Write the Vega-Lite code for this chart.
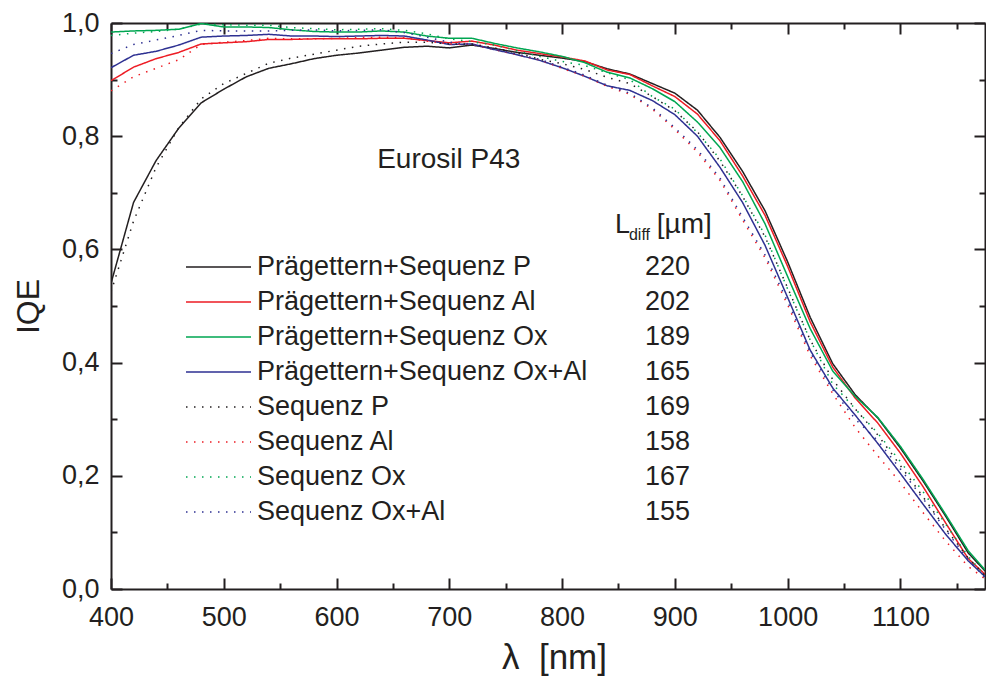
{
  "$schema": "https://vega.github.io/schema/vega-lite/v6.json",
  "width": 874,
  "height": 566,
  "autosize": {"type": "none"},
  "padding": {"left": 111, "top": 23, "right": 1, "bottom": 95},
  "background": "white",
  "config": {
    "view": {"stroke": null},
    "font": "Liberation Sans",
    "axis": {
      "domainColor": "#231f20", "tickColor": "#231f20", "labelColor": "#231f20", "titleColor": "#231f20",
      "grid": false, "domainWidth": 2, "tickWidth": 2, "labelFont": "Liberation Sans", "titleFont": "Liberation Sans",
      "labelFontSize": 27, "titleFontWeight": "normal", "labelFlush": false, "labelOverlap": false, "labelBound": false
    },
    "legend": {"labelFont": "Liberation Sans", "labelColor": "#231f20"}
  },
  "datasets": {
    "curves": [
{"s":"Prägettern+Sequenz P","w":400,"q":0.540},{"s":"Prägettern+Sequenz P","w":420,"q":0.683},{"s":"Prägettern+Sequenz P","w":440,"q":0.757},{"s":"Prägettern+Sequenz P","w":460,"q":0.814},{"s":"Prägettern+Sequenz P","w":480,"q":0.859},{"s":"Prägettern+Sequenz P","w":500,"q":0.883},{"s":"Prägettern+Sequenz P","w":520,"q":0.905},{"s":"Prägettern+Sequenz P","w":540,"q":0.920},{"s":"Prägettern+Sequenz P","w":560,"q":0.928},{"s":"Prägettern+Sequenz P","w":580,"q":0.937},{"s":"Prägettern+Sequenz P","w":600,"q":0.943},{"s":"Prägettern+Sequenz P","w":620,"q":0.947},{"s":"Prägettern+Sequenz P","w":640,"q":0.952},{"s":"Prägettern+Sequenz P","w":660,"q":0.957},{"s":"Prägettern+Sequenz P","w":680,"q":0.959},{"s":"Prägettern+Sequenz P","w":700,"q":0.956},{"s":"Prägettern+Sequenz P","w":720,"q":0.961},{"s":"Prägettern+Sequenz P","w":740,"q":0.955},{"s":"Prägettern+Sequenz P","w":760,"q":0.948},{"s":"Prägettern+Sequenz P","w":780,"q":0.943},{"s":"Prägettern+Sequenz P","w":800,"q":0.938},{"s":"Prägettern+Sequenz P","w":820,"q":0.932},{"s":"Prägettern+Sequenz P","w":840,"q":0.919},{"s":"Prägettern+Sequenz P","w":860,"q":0.910},{"s":"Prägettern+Sequenz P","w":880,"q":0.893},{"s":"Prägettern+Sequenz P","w":900,"q":0.876},{"s":"Prägettern+Sequenz P","w":920,"q":0.846},{"s":"Prägettern+Sequenz P","w":940,"q":0.798},{"s":"Prägettern+Sequenz P","w":960,"q":0.738},{"s":"Prägettern+Sequenz P","w":980,"q":0.668},{"s":"Prägettern+Sequenz P","w":1000,"q":0.578},{"s":"Prägettern+Sequenz P","w":1020,"q":0.480},{"s":"Prägettern+Sequenz P","w":1040,"q":0.398},{"s":"Prägettern+Sequenz P","w":1060,"q":0.343},{"s":"Prägettern+Sequenz P","w":1080,"q":0.302},{"s":"Prägettern+Sequenz P","w":1100,"q":0.249},{"s":"Prägettern+Sequenz P","w":1120,"q":0.191},{"s":"Prägettern+Sequenz P","w":1140,"q":0.129},{"s":"Prägettern+Sequenz P","w":1160,"q":0.064},{"s":"Prägettern+Sequenz P","w":1175,"q":0.032},
{"s":"Prägettern+Sequenz Al","w":400,"q":0.898},{"s":"Prägettern+Sequenz Al","w":420,"q":0.922},{"s":"Prägettern+Sequenz Al","w":440,"q":0.937},{"s":"Prägettern+Sequenz Al","w":460,"q":0.948},{"s":"Prägettern+Sequenz Al","w":480,"q":0.963},{"s":"Prägettern+Sequenz Al","w":500,"q":0.965},{"s":"Prägettern+Sequenz Al","w":520,"q":0.967},{"s":"Prägettern+Sequenz Al","w":540,"q":0.971},{"s":"Prägettern+Sequenz Al","w":560,"q":0.971},{"s":"Prägettern+Sequenz Al","w":580,"q":0.972},{"s":"Prägettern+Sequenz Al","w":600,"q":0.972},{"s":"Prägettern+Sequenz Al","w":620,"q":0.972},{"s":"Prägettern+Sequenz Al","w":640,"q":0.973},{"s":"Prägettern+Sequenz Al","w":660,"q":0.973},{"s":"Prägettern+Sequenz Al","w":680,"q":0.969},{"s":"Prägettern+Sequenz Al","w":700,"q":0.965},{"s":"Prägettern+Sequenz Al","w":720,"q":0.968},{"s":"Prägettern+Sequenz Al","w":740,"q":0.961},{"s":"Prägettern+Sequenz Al","w":760,"q":0.952},{"s":"Prägettern+Sequenz Al","w":780,"q":0.946},{"s":"Prägettern+Sequenz Al","w":800,"q":0.940},{"s":"Prägettern+Sequenz Al","w":820,"q":0.933},{"s":"Prägettern+Sequenz Al","w":840,"q":0.917},{"s":"Prägettern+Sequenz Al","w":860,"q":0.909},{"s":"Prägettern+Sequenz Al","w":880,"q":0.889},{"s":"Prägettern+Sequenz Al","w":900,"q":0.870},{"s":"Prägettern+Sequenz Al","w":920,"q":0.839},{"s":"Prägettern+Sequenz Al","w":940,"q":0.792},{"s":"Prägettern+Sequenz Al","w":960,"q":0.730},{"s":"Prägettern+Sequenz Al","w":980,"q":0.660},{"s":"Prägettern+Sequenz Al","w":1000,"q":0.570},{"s":"Prägettern+Sequenz Al","w":1020,"q":0.472},{"s":"Prägettern+Sequenz Al","w":1040,"q":0.392},{"s":"Prägettern+Sequenz Al","w":1060,"q":0.337},{"s":"Prägettern+Sequenz Al","w":1080,"q":0.293},{"s":"Prägettern+Sequenz Al","w":1100,"q":0.240},{"s":"Prägettern+Sequenz Al","w":1120,"q":0.181},{"s":"Prägettern+Sequenz Al","w":1140,"q":0.117},{"s":"Prägettern+Sequenz Al","w":1160,"q":0.054},{"s":"Prägettern+Sequenz Al","w":1175,"q":0.026},
{"s":"Prägettern+Sequenz Ox","w":400,"q":0.984},{"s":"Prägettern+Sequenz Ox","w":420,"q":0.986},{"s":"Prägettern+Sequenz Ox","w":440,"q":0.987},{"s":"Prägettern+Sequenz Ox","w":460,"q":0.989},{"s":"Prägettern+Sequenz Ox","w":480,"q":0.999},{"s":"Prägettern+Sequenz Ox","w":500,"q":0.993},{"s":"Prägettern+Sequenz Ox","w":520,"q":0.993},{"s":"Prägettern+Sequenz Ox","w":540,"q":0.992},{"s":"Prägettern+Sequenz Ox","w":560,"q":0.988},{"s":"Prägettern+Sequenz Ox","w":580,"q":0.985},{"s":"Prägettern+Sequenz Ox","w":600,"q":0.984},{"s":"Prägettern+Sequenz Ox","w":620,"q":0.984},{"s":"Prägettern+Sequenz Ox","w":640,"q":0.986},{"s":"Prägettern+Sequenz Ox","w":660,"q":0.984},{"s":"Prägettern+Sequenz Ox","w":680,"q":0.977},{"s":"Prägettern+Sequenz Ox","w":700,"q":0.973},{"s":"Prägettern+Sequenz Ox","w":720,"q":0.973},{"s":"Prägettern+Sequenz Ox","w":740,"q":0.964},{"s":"Prägettern+Sequenz Ox","w":760,"q":0.956},{"s":"Prägettern+Sequenz Ox","w":780,"q":0.949},{"s":"Prägettern+Sequenz Ox","w":800,"q":0.941},{"s":"Prägettern+Sequenz Ox","w":820,"q":0.930},{"s":"Prägettern+Sequenz Ox","w":840,"q":0.913},{"s":"Prägettern+Sequenz Ox","w":860,"q":0.903},{"s":"Prägettern+Sequenz Ox","w":880,"q":0.884},{"s":"Prägettern+Sequenz Ox","w":900,"q":0.861},{"s":"Prägettern+Sequenz Ox","w":920,"q":0.825},{"s":"Prägettern+Sequenz Ox","w":940,"q":0.780},{"s":"Prägettern+Sequenz Ox","w":960,"q":0.720},{"s":"Prägettern+Sequenz Ox","w":980,"q":0.645},{"s":"Prägettern+Sequenz Ox","w":1000,"q":0.552},{"s":"Prägettern+Sequenz Ox","w":1020,"q":0.460},{"s":"Prägettern+Sequenz Ox","w":1040,"q":0.385},{"s":"Prägettern+Sequenz Ox","w":1060,"q":0.340},{"s":"Prägettern+Sequenz Ox","w":1080,"q":0.303},{"s":"Prägettern+Sequenz Ox","w":1100,"q":0.252},{"s":"Prägettern+Sequenz Ox","w":1120,"q":0.194},{"s":"Prägettern+Sequenz Ox","w":1140,"q":0.132},{"s":"Prägettern+Sequenz Ox","w":1160,"q":0.068},{"s":"Prägettern+Sequenz Ox","w":1175,"q":0.034},
{"s":"Prägettern+Sequenz Ox+Al","w":400,"q":0.921},{"s":"Prägettern+Sequenz Ox+Al","w":420,"q":0.943},{"s":"Prägettern+Sequenz Ox+Al","w":440,"q":0.950},{"s":"Prägettern+Sequenz Ox+Al","w":460,"q":0.961},{"s":"Prägettern+Sequenz Ox+Al","w":480,"q":0.975},{"s":"Prägettern+Sequenz Ox+Al","w":500,"q":0.977},{"s":"Prägettern+Sequenz Ox+Al","w":520,"q":0.978},{"s":"Prägettern+Sequenz Ox+Al","w":540,"q":0.980},{"s":"Prägettern+Sequenz Ox+Al","w":560,"q":0.977},{"s":"Prägettern+Sequenz Ox+Al","w":580,"q":0.977},{"s":"Prägettern+Sequenz Ox+Al","w":600,"q":0.976},{"s":"Prägettern+Sequenz Ox+Al","w":620,"q":0.977},{"s":"Prägettern+Sequenz Ox+Al","w":640,"q":0.978},{"s":"Prägettern+Sequenz Ox+Al","w":660,"q":0.977},{"s":"Prägettern+Sequenz Ox+Al","w":680,"q":0.970},{"s":"Prägettern+Sequenz Ox+Al","w":700,"q":0.962},{"s":"Prägettern+Sequenz Ox+Al","w":720,"q":0.963},{"s":"Prägettern+Sequenz Ox+Al","w":740,"q":0.953},{"s":"Prägettern+Sequenz Ox+Al","w":760,"q":0.944},{"s":"Prägettern+Sequenz Ox+Al","w":780,"q":0.934},{"s":"Prägettern+Sequenz Ox+Al","w":800,"q":0.921},{"s":"Prägettern+Sequenz Ox+Al","w":820,"q":0.906},{"s":"Prägettern+Sequenz Ox+Al","w":840,"q":0.889},{"s":"Prägettern+Sequenz Ox+Al","w":860,"q":0.881},{"s":"Prägettern+Sequenz Ox+Al","w":880,"q":0.863},{"s":"Prägettern+Sequenz Ox+Al","w":900,"q":0.838},{"s":"Prägettern+Sequenz Ox+Al","w":920,"q":0.800},{"s":"Prägettern+Sequenz Ox+Al","w":940,"q":0.745},{"s":"Prägettern+Sequenz Ox+Al","w":960,"q":0.683},{"s":"Prägettern+Sequenz Ox+Al","w":980,"q":0.607},{"s":"Prägettern+Sequenz Ox+Al","w":1000,"q":0.515},{"s":"Prägettern+Sequenz Ox+Al","w":1020,"q":0.422},{"s":"Prägettern+Sequenz Ox+Al","w":1040,"q":0.355},{"s":"Prägettern+Sequenz Ox+Al","w":1060,"q":0.307},{"s":"Prägettern+Sequenz Ox+Al","w":1080,"q":0.257},{"s":"Prägettern+Sequenz Ox+Al","w":1100,"q":0.204},{"s":"Prägettern+Sequenz Ox+Al","w":1120,"q":0.150},{"s":"Prägettern+Sequenz Ox+Al","w":1140,"q":0.097},{"s":"Prägettern+Sequenz Ox+Al","w":1160,"q":0.050},{"s":"Prägettern+Sequenz Ox+Al","w":1175,"q":0.022},
{"s":"Sequenz P","w":400,"q":0.525},{"s":"Sequenz P","w":420,"q":0.650},{"s":"Sequenz P","w":440,"q":0.745},{"s":"Sequenz P","w":460,"q":0.815},{"s":"Sequenz P","w":480,"q":0.866},{"s":"Sequenz P","w":500,"q":0.893},{"s":"Sequenz P","w":520,"q":0.911},{"s":"Sequenz P","w":540,"q":0.929},{"s":"Sequenz P","w":560,"q":0.938},{"s":"Sequenz P","w":580,"q":0.945},{"s":"Sequenz P","w":600,"q":0.952},{"s":"Sequenz P","w":620,"q":0.959},{"s":"Sequenz P","w":640,"q":0.963},{"s":"Sequenz P","w":660,"q":0.966},{"s":"Sequenz P","w":680,"q":0.966},{"s":"Sequenz P","w":700,"q":0.963},{"s":"Sequenz P","w":720,"q":0.963},{"s":"Sequenz P","w":740,"q":0.956},{"s":"Sequenz P","w":760,"q":0.947},{"s":"Sequenz P","w":780,"q":0.936},{"s":"Sequenz P","w":800,"q":0.928},{"s":"Sequenz P","w":820,"q":0.918},{"s":"Sequenz P","w":840,"q":0.904},{"s":"Sequenz P","w":860,"q":0.893},{"s":"Sequenz P","w":880,"q":0.870},{"s":"Sequenz P","w":900,"q":0.845},{"s":"Sequenz P","w":920,"q":0.808},{"s":"Sequenz P","w":940,"q":0.756},{"s":"Sequenz P","w":960,"q":0.694},{"s":"Sequenz P","w":980,"q":0.622},{"s":"Sequenz P","w":1000,"q":0.532},{"s":"Sequenz P","w":1020,"q":0.440},{"s":"Sequenz P","w":1040,"q":0.370},{"s":"Sequenz P","w":1060,"q":0.318},{"s":"Sequenz P","w":1080,"q":0.272},{"s":"Sequenz P","w":1100,"q":0.218},{"s":"Sequenz P","w":1120,"q":0.163},{"s":"Sequenz P","w":1140,"q":0.107},{"s":"Sequenz P","w":1160,"q":0.055},{"s":"Sequenz P","w":1175,"q":0.024},
{"s":"Sequenz Al","w":400,"q":0.880},{"s":"Sequenz Al","w":420,"q":0.905},{"s":"Sequenz Al","w":440,"q":0.920},{"s":"Sequenz Al","w":460,"q":0.935},{"s":"Sequenz Al","w":480,"q":0.962},{"s":"Sequenz Al","w":500,"q":0.966},{"s":"Sequenz Al","w":520,"q":0.969},{"s":"Sequenz Al","w":540,"q":0.973},{"s":"Sequenz Al","w":560,"q":0.972},{"s":"Sequenz Al","w":580,"q":0.972},{"s":"Sequenz Al","w":600,"q":0.973},{"s":"Sequenz Al","w":620,"q":0.974},{"s":"Sequenz Al","w":640,"q":0.975},{"s":"Sequenz Al","w":660,"q":0.974},{"s":"Sequenz Al","w":680,"q":0.968},{"s":"Sequenz Al","w":700,"q":0.963},{"s":"Sequenz Al","w":720,"q":0.962},{"s":"Sequenz Al","w":740,"q":0.953},{"s":"Sequenz Al","w":760,"q":0.944},{"s":"Sequenz Al","w":780,"q":0.935},{"s":"Sequenz Al","w":800,"q":0.920},{"s":"Sequenz Al","w":820,"q":0.906},{"s":"Sequenz Al","w":840,"q":0.888},{"s":"Sequenz Al","w":860,"q":0.874},{"s":"Sequenz Al","w":880,"q":0.848},{"s":"Sequenz Al","w":900,"q":0.812},{"s":"Sequenz Al","w":920,"q":0.772},{"s":"Sequenz Al","w":940,"q":0.722},{"s":"Sequenz Al","w":960,"q":0.652},{"s":"Sequenz Al","w":980,"q":0.585},{"s":"Sequenz Al","w":1000,"q":0.502},{"s":"Sequenz Al","w":1020,"q":0.412},{"s":"Sequenz Al","w":1040,"q":0.345},{"s":"Sequenz Al","w":1060,"q":0.285},{"s":"Sequenz Al","w":1080,"q":0.235},{"s":"Sequenz Al","w":1100,"q":0.188},{"s":"Sequenz Al","w":1120,"q":0.135},{"s":"Sequenz Al","w":1140,"q":0.085},{"s":"Sequenz Al","w":1160,"q":0.040},{"s":"Sequenz Al","w":1175,"q":0.018},
{"s":"Sequenz Ox","w":400,"q":0.978},{"s":"Sequenz Ox","w":420,"q":0.982},{"s":"Sequenz Ox","w":440,"q":0.985},{"s":"Sequenz Ox","w":460,"q":0.989},{"s":"Sequenz Ox","w":480,"q":0.998},{"s":"Sequenz Ox","w":500,"q":0.997},{"s":"Sequenz Ox","w":520,"q":0.996},{"s":"Sequenz Ox","w":540,"q":0.996},{"s":"Sequenz Ox","w":560,"q":0.992},{"s":"Sequenz Ox","w":580,"q":0.990},{"s":"Sequenz Ox","w":600,"q":0.988},{"s":"Sequenz Ox","w":620,"q":0.989},{"s":"Sequenz Ox","w":640,"q":0.990},{"s":"Sequenz Ox","w":660,"q":0.987},{"s":"Sequenz Ox","w":680,"q":0.981},{"s":"Sequenz Ox","w":700,"q":0.972},{"s":"Sequenz Ox","w":720,"q":0.967},{"s":"Sequenz Ox","w":740,"q":0.961},{"s":"Sequenz Ox","w":760,"q":0.951},{"s":"Sequenz Ox","w":780,"q":0.941},{"s":"Sequenz Ox","w":800,"q":0.932},{"s":"Sequenz Ox","w":820,"q":0.925},{"s":"Sequenz Ox","w":840,"q":0.912},{"s":"Sequenz Ox","w":860,"q":0.900},{"s":"Sequenz Ox","w":880,"q":0.870},{"s":"Sequenz Ox","w":900,"q":0.848},{"s":"Sequenz Ox","w":920,"q":0.806},{"s":"Sequenz Ox","w":940,"q":0.760},{"s":"Sequenz Ox","w":960,"q":0.695},{"s":"Sequenz Ox","w":980,"q":0.625},{"s":"Sequenz Ox","w":1000,"q":0.530},{"s":"Sequenz Ox","w":1020,"q":0.440},{"s":"Sequenz Ox","w":1040,"q":0.362},{"s":"Sequenz Ox","w":1060,"q":0.318},{"s":"Sequenz Ox","w":1080,"q":0.275},{"s":"Sequenz Ox","w":1100,"q":0.225},{"s":"Sequenz Ox","w":1120,"q":0.172},{"s":"Sequenz Ox","w":1140,"q":0.115},{"s":"Sequenz Ox","w":1160,"q":0.058},{"s":"Sequenz Ox","w":1175,"q":0.024},
{"s":"Sequenz Ox+Al","w":400,"q":0.946},{"s":"Sequenz Ox+Al","w":420,"q":0.962},{"s":"Sequenz Ox+Al","w":440,"q":0.970},{"s":"Sequenz Ox+Al","w":460,"q":0.978},{"s":"Sequenz Ox+Al","w":480,"q":0.987},{"s":"Sequenz Ox+Al","w":500,"q":0.986},{"s":"Sequenz Ox+Al","w":520,"q":0.986},{"s":"Sequenz Ox+Al","w":540,"q":0.986},{"s":"Sequenz Ox+Al","w":560,"q":0.987},{"s":"Sequenz Ox+Al","w":580,"q":0.988},{"s":"Sequenz Ox+Al","w":600,"q":0.986},{"s":"Sequenz Ox+Al","w":620,"q":0.987},{"s":"Sequenz Ox+Al","w":640,"q":0.988},{"s":"Sequenz Ox+Al","w":660,"q":0.983},{"s":"Sequenz Ox+Al","w":680,"q":0.975},{"s":"Sequenz Ox+Al","w":700,"q":0.966},{"s":"Sequenz Ox+Al","w":720,"q":0.962},{"s":"Sequenz Ox+Al","w":740,"q":0.954},{"s":"Sequenz Ox+Al","w":760,"q":0.945},{"s":"Sequenz Ox+Al","w":780,"q":0.936},{"s":"Sequenz Ox+Al","w":800,"q":0.922},{"s":"Sequenz Ox+Al","w":820,"q":0.908},{"s":"Sequenz Ox+Al","w":840,"q":0.890},{"s":"Sequenz Ox+Al","w":860,"q":0.876},{"s":"Sequenz Ox+Al","w":880,"q":0.850},{"s":"Sequenz Ox+Al","w":900,"q":0.815},{"s":"Sequenz Ox+Al","w":920,"q":0.776},{"s":"Sequenz Ox+Al","w":940,"q":0.726},{"s":"Sequenz Ox+Al","w":960,"q":0.657},{"s":"Sequenz Ox+Al","w":980,"q":0.590},{"s":"Sequenz Ox+Al","w":1000,"q":0.508},{"s":"Sequenz Ox+Al","w":1020,"q":0.418},{"s":"Sequenz Ox+Al","w":1040,"q":0.352},{"s":"Sequenz Ox+Al","w":1060,"q":0.300},{"s":"Sequenz Ox+Al","w":1080,"q":0.262},{"s":"Sequenz Ox+Al","w":1100,"q":0.212},{"s":"Sequenz Ox+Al","w":1120,"q":0.160},{"s":"Sequenz Ox+Al","w":1140,"q":0.105},{"s":"Sequenz Ox+Al","w":1160,"q":0.052},{"s":"Sequenz Ox+Al","w":1175,"q":0.020}
    ],
    "ldiff": [
      {"s": "Prägettern+Sequenz P", "n": "220"},
      {"s": "Prägettern+Sequenz Al", "n": "202"},
      {"s": "Prägettern+Sequenz Ox", "n": "189"},
      {"s": "Prägettern+Sequenz Ox+Al", "n": "165"},
      {"s": "Sequenz P", "n": "169"},
      {"s": "Sequenz Al", "n": "158"},
      {"s": "Sequenz Ox", "n": "167"},
      {"s": "Sequenz Ox+Al", "n": "155"}
    ]
  },
  "layer": [
    {
      "data": {"name": "curves"},
      "mark": {"type": "line", "strokeWidth": 1.5, "clip": true},
      "encoding": {
        "x": {
          "field": "w", "type": "quantitative",
          "scale": {"domain": [400, 1175], "nice": false, "zero": false},
          "axis": {
            "orient": "bottom",
            "values": [400, 500, 600, 700, 800, 900, 1000, 1100],
            "tickSize": -11,
            "format": "d",
            "labelPadding": 26,
            "title": "λ\u00a0 [nm]", "titleFontSize": 35, "titlePadding": 10, "titleX": 443
          }
        },
        "y": {
          "field": "q", "type": "quantitative",
          "scale": {"domain": [0, 1], "nice": false, "zero": false},
          "axis": {
            "orient": "left",
            "values": [0, 0.2, 0.4, 0.6, 0.8, 1.0],
            "tickSize": -11,
            "labelExpr": "replace(format(datum.value, '.1f'), '.', ',')",
            "labelPadding": 23,
            "title": "IQE", "titleFontSize": 32, "titlePadding": 16
          }
        },
        "color": {
          "field": "s", "type": "nominal",
          "scale": {
            "domain": ["Prägettern+Sequenz P", "Prägettern+Sequenz Al", "Prägettern+Sequenz Ox", "Prägettern+Sequenz Ox+Al", "Sequenz P", "Sequenz Al", "Sequenz Ox", "Sequenz Ox+Al"],
            "range": ["#231f20", "#ed1c24", "#00a651", "#2e3192", "#231f20", "#ed1c24", "#00a651", "#2e3192"]
          },
          "legend": {
            "orient": "none", "legendX": 74, "legendY": 231, "title": null,
            "symbolType": "stroke", "symbolSize": 4225, "symbolStrokeWidth": 1.5,
            "labelFontSize": 27, "labelOffset": 5, "rowPadding": 8, "clipHeight": 26, "labelLimit": 0, "padding": 0
          }
        },
        "strokeDash": {
          "field": "s", "type": "nominal",
          "scale": {
            "domain": ["Prägettern+Sequenz P", "Prägettern+Sequenz Al", "Prägettern+Sequenz Ox", "Prägettern+Sequenz Ox+Al", "Sequenz P", "Sequenz Al", "Sequenz Ox", "Sequenz Ox+Al"],
            "range": [[1, 0], [1, 0], [1, 0], [1, 0], [1.5, 6.5], [1.5, 6.5], [1.5, 6.5], [1.5, 6.5]]
          },
          "legend": {
            "orient": "none", "legendX": 74, "legendY": 231, "title": null,
            "symbolType": "stroke", "symbolSize": 4225, "symbolStrokeWidth": 1.5,
            "labelFontSize": 27, "labelOffset": 5, "rowPadding": 8, "clipHeight": 26, "labelLimit": 0, "padding": 0
          }
        }
      }
    },
    {
      "data": {"name": "ldiff"},
      "mark": {"type": "point", "opacity": 0},
      "encoding": {
        "x": {
          "datum": 400, "type": "quantitative",
          "axis": {"orient": "bottom", "title": null, "labels": false, "domain": false, "tickSize": -6,
                   "values": [450, 550, 650, 750, 850, 950, 1050, 1150]}
        },
        "y": {
          "datum": 0, "type": "quantitative",
          "axis": {"orient": "left", "title": null, "labels": false, "domain": false, "tickSize": -6,
                   "values": [0.1, 0.3, 0.5, 0.7, 0.9]}
        },
        "shape": {
          "field": "n", "type": "nominal",
          "scale": {"domain": ["220", "202", "189", "165", "169", "158", "167", "155"]},
          "legend": {
            "orient": "none", "legendX": 507, "legendY": 231, "title": null,
            "symbolSize": 0, "symbolOpacity": 0, "symbolStrokeWidth": 0,
            "labelOffset": 0, "labelFontSize": 27, "rowPadding": 8, "clipHeight": 26, "padding": 0
          }
        }
      }
    },
    {
      "data": {"values": [{}]},
      "mark": {"type": "text", "align": "left", "baseline": "alphabetic", "fontSize": 28, "color": "#231f20", "text": "Eurosil P43"},
      "encoding": {
        "x": {
          "datum": 636, "type": "quantitative",
          "axis": {"orient": "top", "title": null, "labels": false, "tickSize": -11,
                   "values": [400, 500, 600, 700, 800, 900, 1000, 1100]}
        },
        "y": {
          "datum": 0.744, "type": "quantitative",
          "axis": {"orient": "right", "title": null, "labels": false, "tickSize": -11,
                   "values": [0, 0.2, 0.4, 0.6, 0.8, 1.0]}
        }
      }
    },
    {
      "data": {"values": [{}]},
      "mark": {"type": "text", "align": "left", "baseline": "alphabetic", "fontSize": 27, "color": "#231f20", "text": "L"},
      "encoding": {
        "x": {
          "datum": 846.9, "type": "quantitative",
          "axis": {"orient": "top", "title": null, "labels": false, "domain": false, "tickSize": -6,
                   "values": [450, 550, 650, 750, 850, 950, 1050, 1150]}
        },
        "y": {
          "datum": 0.629, "type": "quantitative",
          "axis": {"orient": "right", "title": null, "labels": false, "domain": false, "tickSize": -6,
                   "values": [0.1, 0.3, 0.5, 0.7, 0.9]}
        }
      }
    },
    {
      "data": {"values": [{}]},
      "mark": {"type": "text", "align": "left", "baseline": "alphabetic", "fontSize": 16, "color": "#231f20", "text": "diff"},
      "encoding": {
        "x": {"datum": 859.3, "type": "quantitative", "axis": null},
        "y": {"datum": 0.617, "type": "quantitative", "axis": null}
      }
    },
    {
      "data": {"values": [{}]},
      "mark": {"type": "text", "align": "left", "baseline": "alphabetic", "fontSize": 28, "color": "#231f20", "text": "[µm]"},
      "encoding": {
        "x": {"datum": 884, "type": "quantitative", "axis": null},
        "y": {"datum": 0.629, "type": "quantitative", "axis": null}
      }
    }
  ],
  "resolve": {"axis": {"x": "independent", "y": "independent"}}
}
